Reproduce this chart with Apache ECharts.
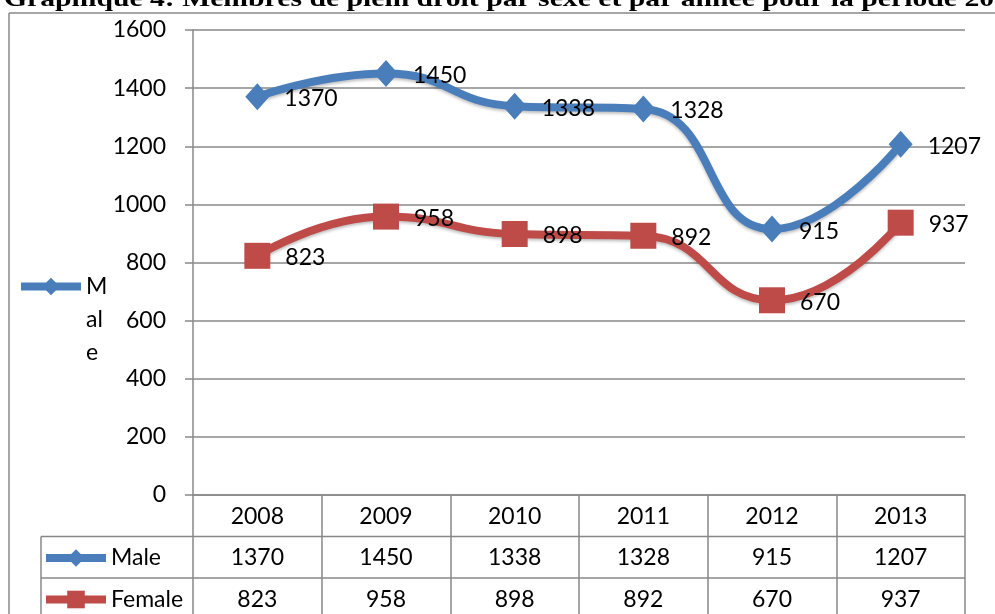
<!DOCTYPE html>
<html>
<head>
<meta charset="utf-8">
<script src="https://cdn.jsdelivr.net/npm/echarts@6/dist/echarts.min.js"></script>
<style>
html, body { margin: 0; padding: 0; background: #fff; }
#ct1 { width: 995px; height: 614px; }
</style>
</head>
<body>
<div id="ct1"></div>
<script>
var years = ['2008', '2009', '2010', '2011', '2012', '2013'];
var male = [1370, 1450, 1338, 1328, 915, 1207];
var female = [823, 958, 898, 892, 670, 937];
var yTicks = { min: 0, max: 1600, interval: 200 };
var titleText = 'Graphique 4: Membres de plein droit par sexe et par année pour la période 2008-2013';

var myChart1 = echarts.init(document.getElementById('ct1'));
var gridCol = '#888888';
var font = 'Lato';
var fs = 23;

// grid box, used for the table lines too
var gL = 193, gR = 965, gT = 30, gB = 495;
var rowH = 41.5;

function valueAxis(offset, vals) {
	return {
		type: 'category',
		data: years,
		position: 'bottom',
		offset: offset,
		axisLine: { show: false },
		axisTick: { show: false },
		axisLabel: {
			margin: 10,
			fontFamily: font,
			fontSize: fs,
			color: '#000',
			formatter: function(v, i) { return String(vals[i]); }
		}
	};
}

function tableLegend(name, top) {
	return {
		data: [name],
		left: 37,
		top: top,
		itemWidth: 60,
		itemHeight: 22,
		itemGap: 0,
		lineStyle: { width: 8 },
		textStyle: { fontFamily: font, fontSize: fs, color: '#000' }
	};
}

var option1 = {
	animation: false,
	grid: { left: gL, right: 995 - gR, top: gT, bottom: 614 - gB, containLabel: false },
	xAxis: [{
		type: 'category',
		data: years,
		position: 'bottom',
		boundaryGap: true,
		axisLine: { show: true, lineStyle: { color: gridCol, width: 1.5 } },
		axisTick: { show: true, length: rowH * 3, lineStyle: { color: gridCol, width: 1.5 } },
		axisLabel: { margin: 10, fontFamily: font, fontSize: fs, color: '#000' }
	}, valueAxis(rowH, male), valueAxis(rowH * 2, female)],
	yAxis: {
		type: 'value',
		min: yTicks.min,
		max: yTicks.max,
		interval: yTicks.interval,
		axisLine: { show: true, lineStyle: { color: gridCol, width: 1.5 } },
		axisTick: { show: true, length: 8, lineStyle: { color: gridCol, width: 1.5 } },
		splitLine: { show: true, lineStyle: { color: gridCol, width: 1.5 } },
		axisLabel: { margin: 27, fontFamily: font, fontSize: fs, color: '#000', formatter: function(v) { return String(v); } }
	},
	legend: [{
		data: ['Male'],
		left: 12,
		top: 199,
		itemWidth: 60,
		itemHeight: 22,
		itemGap: 0,
		lineStyle: { width: 8 },
		formatter: function() { return '\n\nM\nal\ne'; },
		textStyle: { fontFamily: font, fontSize: fs, color: '#000', lineHeight: 33 }
	}, tableLegend('Male', gB + rowH + 5), tableLegend('Female', gB + rowH * 2 + 5)],
	series: [{
		name: 'Male',
		type: 'line',
		data: male,
		smooth: 0.5,
		symbol: 'diamond',
		symbolSize: [24, 27],
		color: '#4A7EBB',
		lineStyle: { width: 8, color: '#4A7EBB', shadowBlur: 3, shadowColor: 'rgba(0,0,0,0.25)', shadowOffsetY: 2 },
		itemStyle: { color: '#4A7EBB' },
		label: { show: true, position: 'right', distance: 15, offset: [0, 2], fontFamily: font, fontSize: fs, color: '#000' }
	}, {
		name: 'Female',
		type: 'line',
		data: female,
		smooth: 0.5,
		symbol: 'rect',
		symbolSize: 26,
		color: '#BE4B48',
		lineStyle: { width: 8, color: '#BE4B48', shadowBlur: 3, shadowColor: 'rgba(0,0,0,0.25)', shadowOffsetY: 2 },
		itemStyle: { color: '#BE4B48' },
		label: { show: true, position: 'right', distance: 15, offset: [0, 2], fontFamily: font, fontSize: fs, color: '#000' }
	}],
	graphic: [
		{ type: 'text', left: 4, top: -11, scaleY: 0.75, z: 10,
			style: { text: titleText, fontFamily: 'Liberation Serif', fontWeight: 'bold', fontSize: 29.7, fill: '#000' } },
		{ type: 'line', z: 11, shape: { x1: 9, y1: 13, x2: 995, y2: 13 }, style: { stroke: gridCol, lineWidth: 1.5 } },
		{ type: 'line', z: 11, shape: { x1: 9, y1: 13, x2: 9, y2: 614 }, style: { stroke: gridCol, lineWidth: 1.5 } },
		{ type: 'line', shape: { x1: 41, y1: gB + rowH, x2: gR, y2: gB + rowH }, style: { stroke: gridCol, lineWidth: 1.5 } },
		{ type: 'line', shape: { x1: 41, y1: gB + rowH * 2, x2: gR, y2: gB + rowH * 2 }, style: { stroke: gridCol, lineWidth: 1.5 } },
		{ type: 'line', shape: { x1: 41, y1: gB + rowH, x2: 41, y2: 614 }, style: { stroke: gridCol, lineWidth: 1.5 } }
	]
};

myChart1.setOption(option1, true);
</script>
</body>
</html>
